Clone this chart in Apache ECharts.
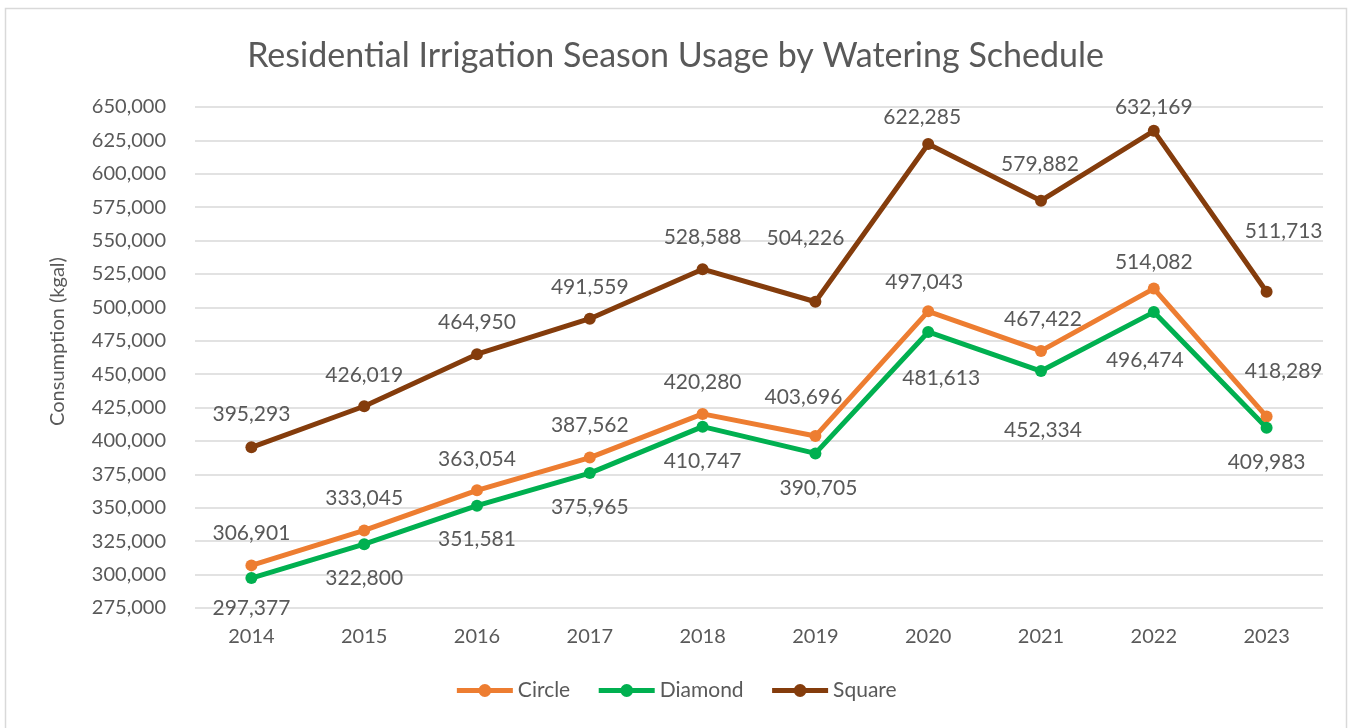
<!DOCTYPE html>
<html>
<head>
<meta charset="utf-8">
<script src="https://cdn.jsdelivr.net/npm/echarts@6/dist/echarts.min.js"></script>
<style>
html,body{margin:0;padding:0;background:#fff;}
#chart{width:1351px;height:728px;}
</style>
</head>
<body>
<div id="chart"></div>
<script>
const years = ['2014','2015','2016','2017','2018','2019','2020','2021','2022','2023'];
const circleValues = [306901, 333045, 363054, 387562, 420280, 403696, 497043, 467422, 514082, 418289];
const diamondValues = [297377, 322800, 351581, 375965, 410747, 390705, 481613, 452334, 496474, 409983];
const squareValues = [395293, 426019, 464950, 491559, 528588, 504226, 622285, 579882, 632169, 511713];
const yTicks = {min: 275000, max: 650000, interval: 25000};

// label placement (pixel offsets of label centre from the point)
const circleLabelOffsets = [[0,-32],[0,-32],[0,-31],[0,-32],[0,-32],[-12,-39],[-4,-29],[2,-32],[0,-26],[17,-45]];
const diamondLabelOffsets = [[0,30],[0,34],[0,34],[0,34],[0,35],[3,35],[13,46],[2,59],[-9,48],[0,35]];
const squareLabelOffsets = [[0,-33],[0,-31],[0,-32],[0,-31],[0,-32],[-10,-64],[-6,-27],[-1,-36],[0,-24],[17,-61]];

const FONT = 'Lato';
const TXT = '#595959';
const fmt = v => Number(v).toLocaleString('en-US');

function mkSeries(name, values, offsets, color) {
  return {
    name: name,
    type: 'line',
    data: values.map((v, i) => ({
      value: v,
      label: {offset: offsets[i]}
    })),
    symbol: 'circle',
    symbolSize: 12,
    lineStyle: {width: 5, color: color},
    itemStyle: {color: color},
    label: {
      show: true,
      position: 'inside',
      color: TXT,
      fontFamily: FONT,
      fontSize: 21,
      formatter: p => fmt(p.value)
    },
    emphasis: {disabled: true},
    z: 2
  };
}

const chart = echarts.init(document.getElementById('chart'));
chart.setOption({
  backgroundColor: '#ffffff',
  animation: false,
  color: ['#ED7D31', '#00B050', '#843C0C'],
  title: {
    text: 'Residential Irrigation Season Usage by Watering Schedule',
    left: 'center',
    top: 34,
    textStyle: {color: TXT, fontFamily: FONT, fontSize: 34, fontWeight: 'normal'}
  },
  graphic: [{
    type: 'rect',
    shape: {x: 5.5, y: 8.5, width: 1341, height: 740},
    style: {fill: 'none', stroke: '#D9D9D9', lineWidth: 1.5},
    silent: true,
    z: -1
  }],
  legend: {
    bottom: 22,
    left: 'center',
    itemWidth: 56,
    itemHeight: 16,
    itemGap: 26,
    lineStyle: {width: 5},
    textStyle: {color: TXT, fontFamily: FONT, fontSize: 21},
    data: ['Circle', 'Diamond', 'Square']
  },
  grid: {left: 195, right: 28, top: 107, bottom: 120, containLabel: false},
  xAxis: {
    type: 'category',
    data: years,
    boundaryGap: true,
    axisLine: {show: false},
    axisTick: {show: false},
    axisLabel: {color: TXT, fontFamily: FONT, fontSize: 20, margin: 19}
  },
  yAxis: {
    type: 'value',
    min: yTicks.min,
    max: yTicks.max,
    interval: yTicks.interval,
    name: 'Consumption (kgal)',
    nameLocation: 'middle',
    nameGap: 127,
    nameTextStyle: {color: TXT, fontFamily: FONT, fontSize: 20, padding: [0, 0, 0, 32]},
    axisLine: {show: false},
    axisTick: {show: false},
    axisLabel: {color: TXT, fontFamily: FONT, fontSize: 20, margin: 29, formatter: v => fmt(v)},
    splitLine: {lineStyle: {color: '#D9D9D9', width: 1.5}}
  },
  series: [
    mkSeries('Circle', circleValues, circleLabelOffsets, '#ED7D31'),
    mkSeries('Diamond', diamondValues, diamondLabelOffsets, '#00B050'),
    mkSeries('Square', squareValues, squareLabelOffsets, '#843C0C')
  ]
});
</script>
</body>
</html>
